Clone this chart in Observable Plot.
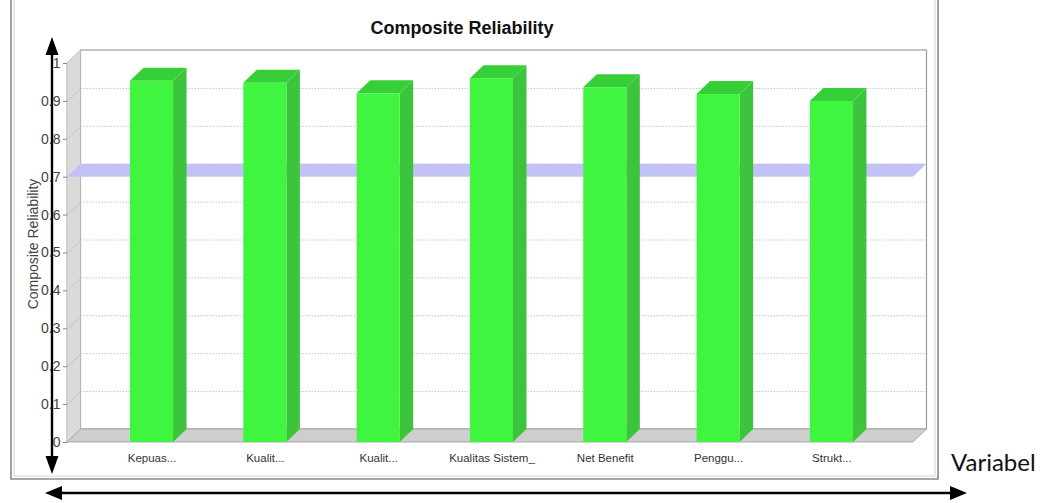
<!DOCTYPE html>
<html><head><meta charset="utf-8">
<script src="https://cdn.jsdelivr.net/npm/d3@7"></script>
<script src="https://cdn.jsdelivr.net/npm/@observablehq/plot@0.6"></script>
<style>
html,body{margin:0;padding:0;background:#fff;}
#wrap{position:relative;width:1043px;height:503px;overflow:hidden;}
#wrap svg{position:absolute;left:0;top:0;}
</style></head>
<body><div id="wrap"></div>
<script>
// ---- data ----
const categories = ["Kepuas...", "Kualit...", "Kualit...", "Kualitas Sistem_", "Net Benefit", "Penggu...", "Strukt..."];
const values = [0.953, 0.948, 0.920, 0.960, 0.936, 0.918, 0.900];
const yTicks = [0, 0.1, 0.2, 0.3, 0.4, 0.5, 0.6, 0.7, 0.8, 0.9, 1];
const yTickLabels = ["0", "0.1", "0.2", "0.3", "0.4", "0.5", "0.6", "0.7", "0.8", "0.9", "1"];
const threshold = 0.7;
const title = "Composite Reliability";
const yLabel = "Composite Reliability";
const xLabel = "Variabel";

// ---- geometry (index units / value units) ----
const XL = -0.746, XR = 6.72;     // front plane extent on the x scale
const HW = 0.19;                  // bar half width
const OX = 13.5 / 113.3;          // depth offset, x
const OY = 13 / 379;              // depth offset, y

const bars = categories.map((c, i) => ({i, c, v: values[i]}));
const sidePts = bars.flatMap(b => [
  {k: b.i, x: b.i + HW, lo: 0, hi: b.v},
  {k: b.i, x: b.i + HW + OX, lo: OY, hi: b.v + OY}
]);
const capPts = bars.flatMap(b => [
  {k: b.i, x: b.i - HW, lo: b.v, hi: b.v},
  {k: b.i, x: b.i - HW + OX, lo: b.v, hi: b.v + OY},
  {k: b.i, x: b.i + HW, lo: b.v, hi: b.v + OY},
  {k: b.i, x: b.i + HW + OX, lo: b.v + OY, hi: b.v + OY}
]);
const plane = (h) => [
  {x: XL, lo: h, hi: h},
  {x: XL + OX, lo: h, hi: h + OY},
  {x: XR, lo: h, hi: h + OY},
  {x: XR + OX, lo: h + OY, hi: h + OY}
];
const leftWall = [{x: XL, lo: 0, hi: 1}, {x: XL + OX, lo: OY, hi: 1 + OY}];
const labelOf = new Map(yTicks.map((t, i) => [t, yTickLabels[i]]));

const chart = Plot.plot({
  width: 1043, height: 503,
  marginLeft: 67, marginRight: 130, marginTop: 63, marginBottom: 61,
  x: {domain: [XL, XR]},
  y: {domain: [0, 1]},
  style: {fontFamily: "'Liberation Sans', Arial, sans-serif", background: "transparent", color: "#333"},
  marks: [
    // back wall
    Plot.rect([0], {x1: XL + OX, x2: XR + OX, y1: OY, y2: 1 + OY, fill: "#ffffff", stroke: "#9c9c9c", strokeWidth: 1.2}),
    // back wall grid
    Plot.ruleY(yTicks.slice(1, -1), {y: d => d + OY, x1: XL + OX, x2: XR + OX, stroke: "#c4c4c4", strokeDasharray: "1.5,1.5"}),
    // left wall
    Plot.area(leftWall, {x1: "x", y1: "lo", y2: "hi", fill: "#dadada", stroke: "#b4b4b4", strokeWidth: 0.8}),
    Plot.link(yTicks.slice(1, -1), {x1: XL, y1: d => d, x2: XL + OX, y2: d => d + OY, stroke: "#c4c4c4"}),
    // floor
    Plot.area(plane(0), {x1: "x", y1: "lo", y2: "hi", fill: "#cecece", stroke: "#a9a9a9", strokeWidth: 1}),
    // threshold plane
    Plot.area(plane(threshold), {x1: "x", y1: "lo", y2: "hi", fill: "#c2c2f6"}),
    // bars: side, top, front
    Plot.area(sidePts, {x1: "x", y1: "lo", y2: "hi", z: "k", fill: "#3cc53c"}),
    Plot.area(capPts, {x1: "x", y1: "lo", y2: "hi", z: "k", fill: "#37cf37"}),
    Plot.rect(bars, {x1: d => d.i - HW, x2: d => d.i + HW, y1: 0, y2: "v", fill: "#40f540"}),
    // axes
    Plot.axisY({ticks: yTicks, tickFormat: d => labelOf.get(d), tickSize: 4, tickPadding: 3, fontSize: 14, stroke: "#888", color: "#444", label: null}),
    Plot.axisX({ticks: bars.map(b => b.i), tickFormat: i => categories[i], tickSize: 0, tickPadding: 11, fontSize: 11.5, color: "#333", label: null}),
    Plot.text([yLabel], {frameAnchor: "left", textAnchor: "middle", rotate: -90, dx: -34, dy: -9, fontSize: 14, fill: "#444"})
  ]
});
const wrap = document.getElementById("wrap");
wrap.appendChild(chart);

// overlay: frame, arrows, title, x label
const ns = "http://www.w3.org/2000/svg";
const ov = document.createElementNS(ns, "svg");
ov.setAttribute("width", 1043); ov.setAttribute("height", 503);
ov.innerHTML = `
  <path d="M11,0 V479 H938 V0" fill="none" stroke="#8a8a8a" stroke-width="1.6"/>
  <path d="M14,0 V476 H935 V0" fill="none" stroke="#d4d4d4" stroke-width="1"/>
  <line x1="52" y1="50" x2="52" y2="460" stroke="#000" stroke-width="2.4"/>
  <polygon points="52,37 45.5,55 58.5,55" fill="#000"/>
  <polygon points="52,474 45.5,456 58.5,456" fill="#000"/>
  <line x1="58" y1="493" x2="954" y2="493" stroke="#000" stroke-width="2.4"/>
  <polygon points="45,493 62,486 62,500" fill="#000"/>
  <polygon points="967,493 950,486 950,500" fill="#000"/>
  <text x="462" y="34" text-anchor="middle" font-family="'Liberation Sans', Arial, sans-serif" font-weight="bold" font-size="18" fill="#111"></text>
  <text x="951" y="471" font-family="Lato, 'Open Sans', sans-serif" font-size="24" fill="#111"></text>
`;
const texts = ov.querySelectorAll("text");
texts[0].textContent = title;
texts[1].textContent = xLabel;
wrap.appendChild(ov);
</script>
</body></html>
